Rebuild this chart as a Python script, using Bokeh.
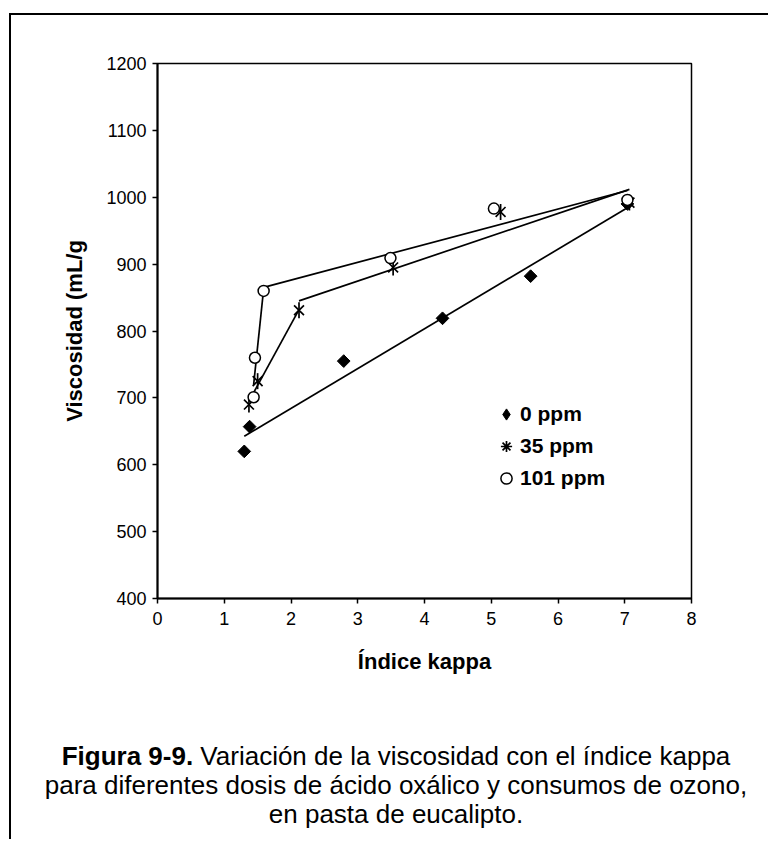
import numpy as np
from bokeh.plotting import figure
from bokeh.layouts import row, column
from bokeh.models import (Range1d, FixedTicker, Legend, LegendItem, Div)
from bokeh.embed import file_html
from bokeh.resources import INLINE

# ---------------- data ----------------
kappa_0ppm = [1.30, 1.38, 2.79, 4.27, 5.59, 7.04]
visc_0ppm = [620, 657, 755, 819, 882, 990]
kappa_35ppm = [1.37, 1.50, 2.12, 3.53, 5.14, 7.07]
visc_35ppm = [690, 725, 831, 895, 978, 992]
kappa_101ppm = [1.44, 1.46, 1.59, 3.49, 5.04, 7.04]
visc_101ppm = [701, 760, 860, 909, 983, 996]

# trend line segments: index ranges of the points of each series
trend_0ppm = [(0, 6)]
trend_35ppm = [(0, 3), (2, 6)]
trend_101ppm = [(0, 3), (2, 6)]

x_ticks = [0, 1, 2, 3, 4, 5, 6, 7, 8]
y_ticks = [400, 500, 600, 700, 800, 900, 1000, 1100, 1200]
series_names = ["0 ppm", "35 ppm", "101 ppm"]
x_title = "Índice kappa"
y_title = "Viscosidad (mL/g"
caption_bold = "Figura 9-9."
caption_line1 = "Variación de la viscosidad con el índice kappa"
caption_line2 = "para diferentes dosis de ácido oxálico y consumos de ozono,"
caption_line3 = "en pasta de eucalipto."

FONT = "Liberation Sans"

p = figure(width=757, height=705, output_backend="svg", toolbar_location=None,
           x_range=Range1d(x_ticks[0], x_ticks[-1]),
           y_range=Range1d(y_ticks[0], y_ticks[-1]),
           min_border_left=146, min_border_right=77,
           min_border_top=48, min_border_bottom=122, margin=0)
p.grid.visible = False
p.background_fill_color = "white"
p.border_fill_color = "white"
p.outline_line_color = "black"
p.outline_line_width = 1.5
p.outline_line_alpha = 1.0

# ---------------- trend lines ----------------
def trend(xs, ys, segs):
    out = []
    for a, b in segs:
        x = np.array(xs[a:b], dtype=float)
        y = np.array(ys[a:b], dtype=float)
        m, c = np.polyfit(x, y, 1)
        xx = np.array([x.min(), x.max()])
        out.append((xx, m * xx + c))
    return out

for xs, ys, segs in [(kappa_0ppm, visc_0ppm, trend_0ppm),
                     (kappa_35ppm, visc_35ppm, trend_35ppm),
                     (kappa_101ppm, visc_101ppm, trend_101ppm)]:
    for xx, yy in trend(xs, ys, segs):
        p.line(xx, yy, line_color="black", line_width=1.7)

# ---------------- markers ----------------
r0_leg = p.scatter(kappa_0ppm, visc_0ppm, marker="diamond", size=1,
                   fill_color="black", line_color="black")
r0 = p.scatter(kappa_0ppm, visc_0ppm, marker="square", angle=np.pi / 4,
               size=9, fill_color="black", line_color="black")
r35_leg = p.scatter(kappa_35ppm, visc_35ppm, marker="asterisk", size=1,
                    line_color="black", line_width=1.7)
r35x = p.scatter(kappa_35ppm, visc_35ppm, marker="x", size=14,
                 line_color="black", line_width=1.7)
r35v = p.scatter(kappa_35ppm, visc_35ppm, marker="dash", angle=np.pi / 2,
                 size=16, line_color="black", line_width=1.7)
r101 = p.scatter(kappa_101ppm, visc_101ppm, marker="circle", size=11,
                 fill_color="white", line_color="black", line_width=1.5)

# ---------------- axes ----------------
p.xaxis.ticker = FixedTicker(ticks=x_ticks)
p.yaxis.ticker = FixedTicker(ticks=y_ticks)
for ax in (p.xaxis[0], p.yaxis[0]):
    ax.axis_line_color = "black"
    ax.axis_line_width = 2
    ax.major_tick_line_color = "black"
    ax.major_tick_line_width = 1.5
    ax.major_tick_out = 5
    ax.major_tick_in = 0
    ax.minor_tick_out = 0
    ax.minor_tick_in = 0
    ax.major_label_text_font = FONT
    ax.major_label_text_font_size = "18px"
    ax.major_label_text_color = "black"
    ax.axis_label_text_font = FONT
    ax.axis_label_text_font_size = "22px"
    ax.axis_label_text_font_style = "bold"
    ax.axis_label_text_color = "black"

p.xaxis.axis_label = x_title
p.yaxis.axis_label = y_title
p.yaxis.major_label_standoff = 6
p.yaxis.axis_label_standoff = 16
p.xaxis.major_label_standoff = 8
p.xaxis.axis_label_standoff = 21

# ---------------- legend ----------------
legend = Legend(items=[LegendItem(label=series_names[0], renderers=[r0_leg]),
                       LegendItem(label=series_names[1], renderers=[r35_leg]),
                       LegendItem(label=series_names[2], renderers=[r101])],
                location=(335, 106), orientation="vertical",
                padding=0, margin=0, spacing=4,
                glyph_width=28, glyph_height=28, label_height=28,
                label_standoff=0,
                label_text_font=FONT, label_text_font_size="21px",
                label_text_font_style="bold", label_text_color="black",
                border_line_alpha=0, background_fill_alpha=0)
p.add_layout(legend)

# ---------------- caption and outer frame ----------------
caption = Div(text=f"<b>{caption_bold}</b> {caption_line1}<br>"
                   f"{caption_line2}<br>{caption_line3}",
              width=744, height=100, margin=(22, 0, 0, 13),
              styles={"font-family": "'Liberation Sans', Arial, sans-serif",
                      "font-size": "26px", "line-height": "29px",
                      "text-align": "center", "color": "black",
                      "white-space": "nowrap"})

frame_left = Div(text="", width=2, height=826, margin=(13, 0, 0, 9),
                 styles={"background-color": "black"})
frame_top = Div(text="", width=757, height=2, margin=(13, 0, 0, 0),
                styles={"background-color": "black"})

layout = row(frame_left, column(frame_top, p, caption, margin=0, spacing=0),
             margin=0, spacing=0)

open("out.html", "w").write(file_html(layout, INLINE))
